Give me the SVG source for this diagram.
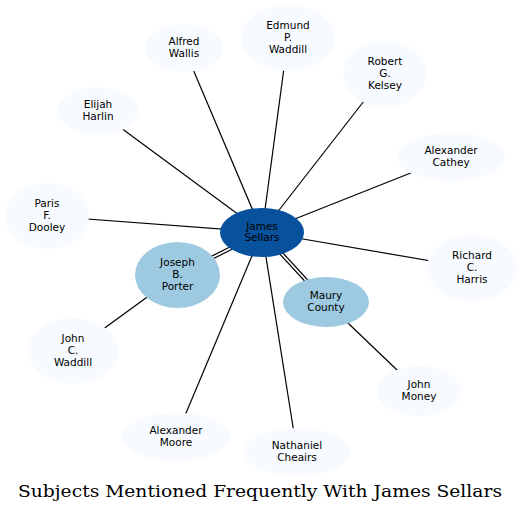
<svg xmlns="http://www.w3.org/2000/svg" width="522" height="513" viewBox="0 0 522 513">
<style>
.e{stroke:#000;stroke-width:1.2;fill:none}
.leaf{fill:#f7fbff;stroke:none}
.mid{fill:#9ecae1;stroke:none}
.hub{fill:#08519c;stroke:none}
text{font-family:"DejaVu Sans","Liberation Sans",sans-serif;font-size:10.5px;fill:#000;text-anchor:middle}
.title{font-family:"DejaVu Serif","Liberation Serif",serif;font-size:17px}
</style>
<rect width="522" height="513" fill="#fff"/>
<g id="edges">
<line class="e" x1="262" y1="232" x2="184" y2="48"/>
<line class="e" x1="262" y1="232" x2="288" y2="38"/>
<line class="e" x1="262" y1="232" x2="385" y2="74"/>
<line class="e" x1="262" y1="232" x2="98" y2="111"/>
<line class="e" x1="262" y1="232" x2="451" y2="157"/>
<line class="e" x1="262" y1="232" x2="47" y2="216"/>
<line class="e" x1="262" y1="232" x2="472" y2="268"/>
<line class="e" x1="262" y1="232" x2="176" y2="437"/>
<line class="e" x1="262" y1="232" x2="297" y2="452"/>
<line class="e" x1="262.65" y1="233.85" x2="178.15" y2="276.35"/>
<line class="e" x1="261.35" y1="231.15" x2="176.85" y2="273.65"/>
<line class="e" x1="260.9" y1="233.5" x2="324.9" y2="303"/>
<line class="e" x1="263.1" y1="231.5" x2="327.1" y2="301"/>
<line class="e" x1="177.5" y1="275" x2="73" y2="351"/>
<line class="e" x1="326" y1="302" x2="419" y2="391"/>
</g>
<g id="n_alfred"><ellipse class="leaf" cx="184" cy="48" rx="39" ry="24"/><text x="184" y="45.2">Alfred</text><text x="184" y="56.9">Wallis</text></g>
<g id="n_edmund"><ellipse class="leaf" cx="288" cy="38" rx="47" ry="33"/><text x="288" y="29.3">Edmund</text><text x="288" y="41">P.</text><text x="288" y="52.7">Waddill</text></g>
<g id="n_robert"><ellipse class="leaf" cx="385" cy="74" rx="42" ry="33"/><text x="385" y="65.3">Robert</text><text x="385" y="77">G.</text><text x="385" y="88.7">Kelsey</text></g>
<g id="n_elijah"><ellipse class="leaf" cx="98" cy="111" rx="40" ry="24"/><text x="98" y="108.2">Elijah</text><text x="98" y="119.9">Harlin</text></g>
<g id="n_cathey"><ellipse class="leaf" cx="451" cy="157" rx="54" ry="24"/><text x="451" y="154.2">Alexander</text><text x="451" y="165.9">Cathey</text></g>
<g id="n_paris"><ellipse class="leaf" cx="47" cy="216" rx="42" ry="33"/><text x="47" y="207.3">Paris</text><text x="47" y="219">F.</text><text x="47" y="230.7">Dooley</text></g>
<g id="n_richard"><ellipse class="leaf" cx="472" cy="268" rx="45" ry="33"/><text x="472" y="259.3">Richard</text><text x="472" y="271">C.</text><text x="472" y="282.7">Harris</text></g>
<g id="n_johnc"><ellipse class="leaf" cx="73" cy="351" rx="45" ry="33"/><text x="73" y="342.3">John</text><text x="73" y="354">C.</text><text x="73" y="365.7">Waddill</text></g>
<g id="n_money"><ellipse class="leaf" cx="419" cy="391" rx="42" ry="25"/><text x="419" y="388.2">John</text><text x="419" y="399.9">Money</text></g>
<g id="n_moore"><ellipse class="leaf" cx="176" cy="437" rx="54" ry="24"/><text x="176" y="434.2">Alexander</text><text x="176" y="445.9">Moore</text></g>
<g id="n_cheairs"><ellipse class="leaf" cx="297" cy="452" rx="53" ry="24"/><text x="297" y="449.2">Nathaniel</text><text x="297" y="460.9">Cheairs</text></g>
<g id="n_porter"><ellipse class="mid" cx="177.5" cy="275" rx="42.5" ry="33"/><text x="177.5" y="266.3">Joseph</text><text x="177.5" y="278">B.</text><text x="177.5" y="289.7">Porter</text></g>
<g id="n_maury"><ellipse class="mid" cx="326" cy="302" rx="43" ry="25"/><text x="326" y="299.2">Maury</text><text x="326" y="310.9">County</text></g>
<g id="n_james"><ellipse class="hub" cx="262" cy="232.5" rx="42" ry="24.5"/><text x="262" y="229.7">James</text><text x="262" y="241.4">Sellars</text></g>
<text class="title" x="260" y="497" textLength="484" lengthAdjust="spacingAndGlyphs">Subjects Mentioned Frequently With James Sellars</text>
</svg>
